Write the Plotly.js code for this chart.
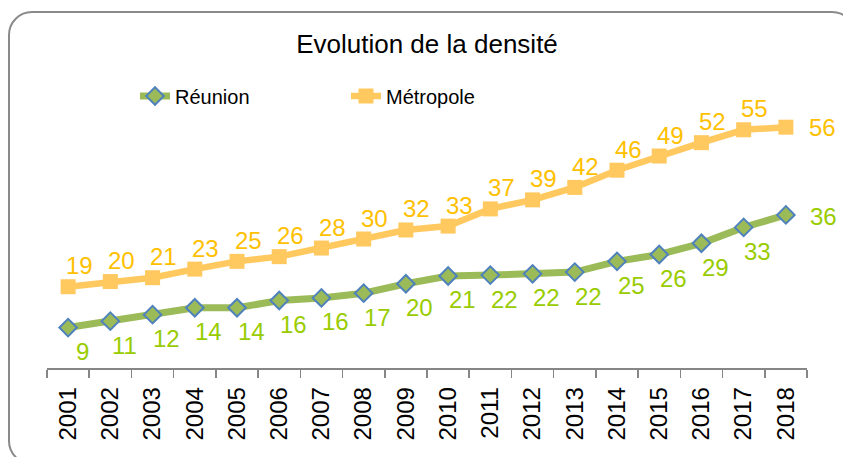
<!DOCTYPE html>
<html>
<head>
<meta charset="utf-8">
<script src="https://cdn.plot.ly/plotly-3.0.1.min.js"></script>
<style>
  html, body { margin: 0; padding: 0; background: #ffffff; overflow: hidden; }
  #chart { width: 843px; height: 457px; position: absolute; left: 0; top: 0; }
  #frame { position: absolute; left: 8px; top: 11px; width: 844px; height: 450px;
           border: 2px solid #8a8a8a; border-radius: 24px; pointer-events: none; }
</style>
</head>
<body>
<div id="chart"></div>
<div id="frame"></div>
<script>
// ---- Data ----
const years = ["2001","2002","2003","2004","2005","2006","2007","2008","2009",
               "2010","2011","2012","2013","2014","2015","2016","2017","2018"];
const reunionValues = [9.4, 10.9, 12.4, 14.0, 14.0, 15.7, 16.3, 17.4, 19.6,
                       21.4, 21.6, 21.9, 22.3, 24.8, 26.4, 29.0, 32.7, 35.6];
const metropoleValues = [18.9, 20.1, 21.0, 23.0, 24.8, 25.9, 27.9, 30.0, 32.1,
                         33.0, 37.0, 39.1, 42.0, 46.0, 49.3, 52.4, 55.4, 56.0];
const reunionLabels = ["9","11","12","14","14","16","16","17","20",
                       "21","22","22","22","25","26","29","33","36"];
const metropoleLabels = ["19","20","21","23","25","26","28","30","32",
                         "33","37","39","42","46","49","52","55","56"];
const seriesNames = ["Réunion", "Métropole"];
const chartTitle = "Evolution de la densité";

// ---- Styles ----
const FONT = "Liberation Sans, Arial, sans-serif";
const reunionColor = "#9BBB59";
const reunionEdge = "#4F81BD";
const reunionText = "#99CC00";
const metroColor = "#FFC95F";
const metroText = "#FFC000";

const traces = [
  {
    type: "scatter", mode: "lines+markers", name: seriesNames[0],
    x: years, y: reunionValues,
    line: { color: reunionColor, width: 7 },
    marker: { symbol: "diamond", size: 13.5, color: reunionColor,
              line: { color: reunionEdge, width: 2 } },
    hoverinfo: "skip"
  },
  {
    type: "scatter", mode: "lines+markers", name: seriesNames[1],
    x: years, y: metropoleValues,
    line: { color: metroColor, width: 6.5 },
    marker: { symbol: "square", size: 15, color: metroColor },
    hoverinfo: "skip"
  }
];

const annotations = [];
const last = years.length - 1;
for (let i = 0; i < years.length; i++) {
  annotations.push({
    xref: "x", yref: "y",
    x: i, y: reunionValues[i], text: reunionLabels[i], showarrow: false,
    xanchor: "center", yanchor: "middle",
    xshift: i === last ? 38 : 14, yshift: i === last ? -2 : -24,
    font: { family: FONT, size: 24, color: reunionText }
  });
  annotations.push({
    xref: "x", yref: "y",
    x: i, y: metropoleValues[i], text: metropoleLabels[i], showarrow: false,
    xanchor: "center", yanchor: "middle",
    xshift: i === last ? 37 : 11, yshift: i === last ? 0 : 21,
    font: { family: FONT, size: 24, color: metroText }
  });
}

const layout = {
  width: 843, height: 457,
  margin: { l: 47, r: 36, t: 110, b: 89, pad: 0 },
  paper_bgcolor: "#ffffff", plot_bgcolor: "#ffffff",
  font: { family: FONT, color: "#000000" },
  title: { text: chartTitle, font: { family: FONT, size: 26, color: "#000000" },
           x: 0.5, xanchor: "center", xref: "paper", y: 1 - 44 / 457, yanchor: "middle", yref: "container" },
  showlegend: true,
  legend: {
    orientation: "h", x: (135 - 47) / 760, xanchor: "left",
    y: (368 - 96) / 258, yanchor: "middle",
    font: { family: FONT, size: 20, color: "#000000" },
    entrywidth: 166, entrywidthmode: "pixels",
    bgcolor: "rgba(0,0,0,0)", borderwidth: 0, tracegroupgap: 0,
    itemclick: false, itemdoubleclick: false
  },
  xaxis: {
    type: "category", range: [-0.5, 17.5], fixedrange: true,
    showgrid: false, zeroline: false,
    showline: true, linecolor: "#868686", linewidth: 1.5,
    ticks: "outside", tickson: "boundaries", ticklen: 8, tickcolor: "#868686", tickwidth: 1.5,
    tickangle: -90, tickfont: { family: FONT, size: 24, color: "#000000" },
    ticklabelstandoff: 8,
    automargin: false
  },
  yaxis: {
    range: [0, 60], showgrid: false, zeroline: false, fixedrange: true,
    showline: false, ticks: "", showticklabels: false
  },
  annotations: annotations
};

Plotly.newPlot("chart", traces, layout, { displayModeBar: false, staticPlot: true });
</script>
</body>
</html>
